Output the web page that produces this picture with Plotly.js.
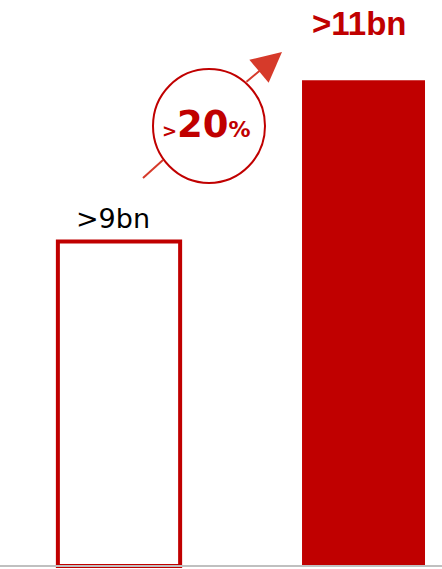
<!DOCTYPE html>
<html><head><meta charset="utf-8">
<script src="https://cdn.plot.ly/plotly-3.0.1.min.js"></script>
<style>html,body{margin:0;padding:0;background:#fff;}#chart{width:442px;height:569px;}</style>
</head><body><div id="chart"></div>
<script>
const categories = ['Before', 'After'];
const values = [9, 11];
const valueLabels = ['&gt;9bn', '&gt;11bn'];
const growthLabel = '<span style="font-size:18px">&gt;</span>20<span style="font-size:22px">%</span>';

const RED = '#c00000';
const AXIS_MIN = 4.98;
const xPos = categories.map((c, i) => i);

const traces = [
  {type: 'bar', x: [xPos[0]], y: [values[0] - AXIS_MIN], base: AXIS_MIN, width: 0.5,
   marker: {color: '#ffffff', line: {color: RED, width: 4}}, hoverinfo: 'skip'},
  {type: 'bar', x: [xPos[1]], y: [values[1] - AXIS_MIN], base: AXIS_MIN, width: 0.503,
   marker: {color: RED, line: {width: 0}}, hoverinfo: 'skip'}
];

const W = 442, H = 569;
const px = v => v / W;
const py = v => (H - v) / H;

const layout = {
  width: 442, height: 569,
  margin: {l: 0, r: 0, t: 0, b: 0, pad: 0},
  paper_bgcolor: '#fff', plot_bgcolor: '#fff',
  showlegend: false, barmode: 'overlay',
  xaxis: {range: [-0.4867, 1.321], showgrid: false, zeroline: false, showticklabels: false, ticks: '',
          showline: false, fixedrange: true},
  yaxis: {range: [4.943, 11.994], visible: false, fixedrange: true},
  shapes: [
    {type: 'line', xref: 'paper', yref: 'y', x0: 0, x1: 1, y0: AXIS_MIN, y1: AXIS_MIN,
     line: {color: '#c0c0c0', width: 2}},
    {type: 'line', xref: 'paper', yref: 'paper', x0: px(143), y0: py(178), x1: px(163), y1: py(160),
     line: {color: '#d63a2a', width: 2}},
    {type: 'circle', xref: 'paper', yref: 'paper', x0: px(153), x1: px(265), y0: py(183), y1: py(69),
     line: {color: RED, width: 2}, fillcolor: 'rgba(255,255,255,0)'}
  ],
  annotations: [
    {x: xPos[0] - 0.025, y: values[0], xref: 'x', yref: 'y', text: valueLabels[0], showarrow: false,
     yanchor: 'bottom', yshift: 6, font: {family: 'DejaVu Sans', size: 27, color: '#000'}},
    {x: xPos[1] - 0.02, y: values[1], xref: 'x', yref: 'y', text: '<b>' + valueLabels[1] + '</b>', showarrow: false,
     yanchor: 'bottom', yshift: 36, font: {family: 'Liberation Sans', size: 33, color: RED}},
    {xref: 'paper', yref: 'paper', x: px(206), y: py(125), text: '<b>' + growthLabel + '</b>', showarrow: false,
     xanchor: 'center', yanchor: 'middle', font: {family: 'DejaVu Sans', size: 37, color: RED}},
    {xref: 'paper', yref: 'paper', x: px(282), y: py(52), ax: -37, ay: 31, text: '', showarrow: true,
     arrowhead: 2, arrowsize: 3, arrowwidth: 2, arrowcolor: '#d63a2a', standoff: 0}
  ]
};

Plotly.newPlot('chart', traces, layout, {displayModeBar: false, staticPlot: true});
</script></body></html>
